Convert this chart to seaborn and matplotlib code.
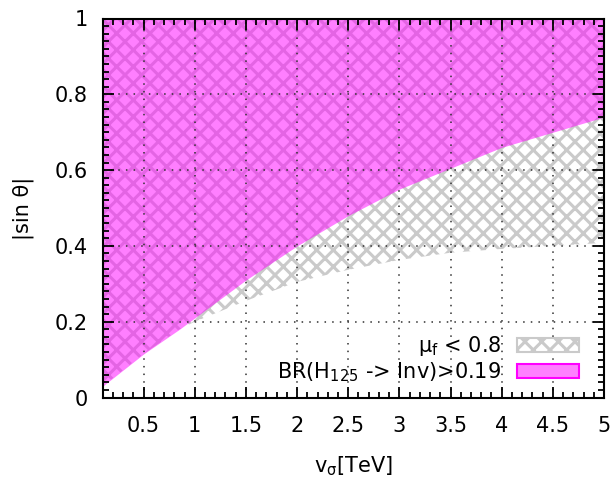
import matplotlib
matplotlib.use('Agg')
import matplotlib.pyplot as plt
import matplotlib.patches as mpatches
from matplotlib.ticker import MultipleLocator
import seaborn as sns

# boundaries
v_sigma = [0.1, 0.5, 0.85, 1.0, 1.5, 2.0, 2.5, 3.0, 3.5, 4.0, 4.5, 5.0]
br_inv_lower = [0.03, 0.115, 0.18, 0.21, 0.31, 0.40, 0.48, 0.55, 0.605, 0.66, 0.70, 0.74]
mu_f_lower = [0.03, 0.115, 0.18, 0.20, 0.255, 0.305, 0.337, 0.363, 0.382, 0.392, 0.40, 0.408]
y_top = 1.0

x_ticks = [0.5, 1, 1.5, 2, 2.5, 3, 3.5, 4, 4.5, 5]
x_ticklabels = ['0.5', '1', '1.5', '2', '2.5', '3', '3.5', '4', '4.5', '5']
y_ticks = [0, 0.2, 0.4, 0.6, 0.8, 1]
y_ticklabels = ['0', '0.2', '0.4', '0.6', '0.8', '1']

label_mu = 'μ$_\\mathrm{f}$ < 0.8'
label_br = 'BR(H$_{125}$ -> Inv)>0.19'

sns.set_theme(style='white')
plt.rcParams['font.family'] = ['DejaVu Sans']
plt.rcParams['mathtext.default'] = 'regular'
plt.rcParams['hatch.linewidth'] = 2.2
plt.rcParams['text.color'] = 'black'

FS = 15

fig = plt.figure(figsize=(6.11, 4.79), dpi=100)
ax = fig.add_axes([102.7 / 611, 1 - 397.5 / 479, (604 - 102.7) / 611, (397.5 - 18.5) / 479])

grey = '#cacaca'
ax.fill_between(v_sigma, mu_f_lower, y_top, facecolor='white', edgecolor=grey,
                hatch='xx', linewidth=0, zorder=1)
ax.fill_between(v_sigma, br_inv_lower, y_top, facecolor='#ff00ff', alpha=0.5,
                linewidth=0, zorder=2)

ax.set_xlim(0.1, 5)
ax.set_ylim(0, 1)
ax.xaxis.set_minor_locator(MultipleLocator(0.1))
ax.yaxis.set_minor_locator(MultipleLocator(0.02))
ax.set_xticks(x_ticks)
ax.set_xticklabels(x_ticklabels)
ax.set_yticks(y_ticks)
ax.set_yticklabels(y_ticklabels)

ax.tick_params(which='both', direction='in', top=True, right=True,
               bottom=True, left=True, color='black', width=1.3)
ax.tick_params(which='major', length=8, labelsize=FS, labelcolor='black')
ax.tick_params(which='minor', length=4)
ax.tick_params(axis='x', which='major', pad=13.5)
ax.tick_params(axis='y', which='major', pad=10.5)
for s in ax.spines.values():
    s.set_color('black')
    s.set_linewidth(1.5)
    s.set_zorder(5)

ax.set_axisbelow(False)
ax.grid(True, which='major', color='#303030', linestyle=(0, (1, 4)), linewidth=1.1)

ax.set_xlabel('v$_\\sigma$[TeV]', fontsize=FS, labelpad=13, color='black')
ax.set_ylabel('|sin θ|', fontsize=FS, labelpad=15, color='black')

h_mu = mpatches.Patch(facecolor='white', edgecolor=grey, hatch='xx', linewidth=1.5)
h_br = mpatches.Patch(facecolor='#ff80ff', edgecolor='#ff00ff', linewidth=1.5)
ax.legend([h_mu, h_br], [label_mu, label_br], loc='lower right',
          bbox_to_anchor=(579 / 611, 1 - 384 / 479), bbox_transform=fig.transFigure,
          frameon=False, markerfirst=False, fontsize=FS, borderpad=0,
          borderaxespad=0, handlelength=3.0, handleheight=0.7,
          handletextpad=0.72, labelspacing=0.1, labelcolor='black')

fig.savefig('out.png', dpi=100)
